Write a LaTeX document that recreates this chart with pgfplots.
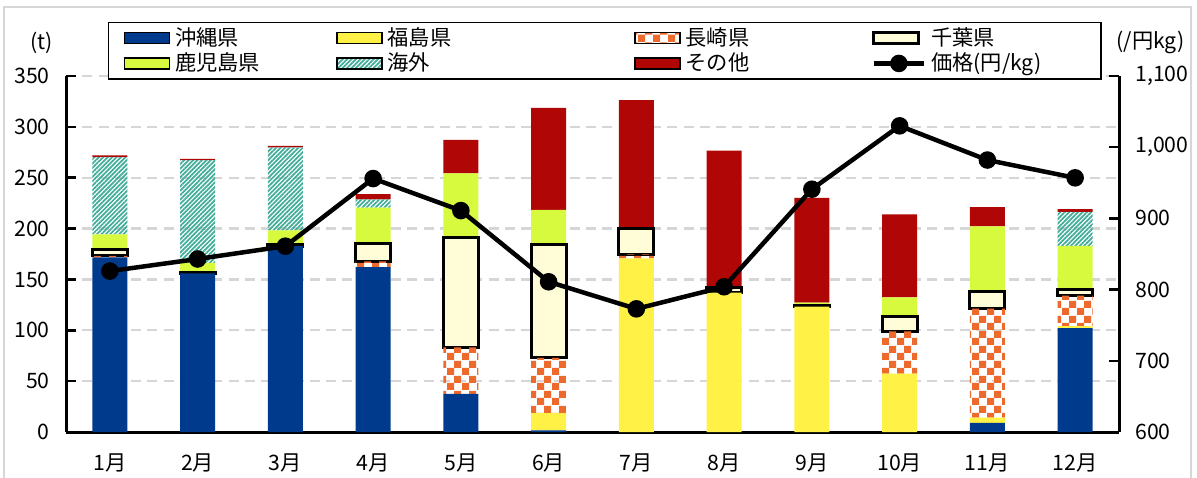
\documentclass[border=0pt]{standalone}
\usepackage{fontspec}
\setmainfont{Noto Sans CJK JP}
\usepackage{pgfplots}
\pgfplotsset{compat=1.18}
\usepackage{pgfplotstable}
\usetikzlibrary{patterns,patterns.meta}

\definecolor{okinawa}{HTML}{003A8C}
\definecolor{fukushima}{HTML}{FFF145}
\definecolor{nagasaki}{HTML}{EE6A2C}
\definecolor{chiba}{HTML}{FFFDD8}
\definecolor{kagoshima}{HTML}{D7FA3F}
\definecolor{kaigai}{HTML}{3FAD98}
\definecolor{sonota}{HTML}{B00606}
\definecolor{gridgray}{HTML}{D6D6D6}

\pgfdeclarepattern{
  name=checker, type=uncolored,
  bottom left={\pgfpointorigin},
  top right={\pgfpoint{5.8pt}{5.8pt}},
  tile size={\pgfpoint{5.8pt}{5.8pt}},
  code={
    \pgfpathrectangle{\pgfpointorigin}{\pgfpoint{2.9pt}{2.9pt}}
    \pgfpathrectangle{\pgfpoint{2.9pt}{2.9pt}}{\pgfpoint{2.9pt}{2.9pt}}
    \pgfusepath{fill}
  }
}

\pgfplotsset{
  pricelegend/.style={legend image code/.code={
    \draw[##1, mark=none] (0pt,0pt) -- (20pt,0pt);
    \draw[##1, only marks] plot coordinates {(10pt,0pt)};}},
}

% month, tonnes by origin (stacked bottom to top), price in yen/kg
\pgfplotstableread{
m okinawa fukushima nagasaki chiba kagoshima kaigai sonota price
1  171.7 0     2     5.5   15    76    1.7   826
2  156   0     0     1.2   9     101   1.3   843
3  182.8 0     0     1.5   14    81.5  1.6   861
4  162.2 0     5.5   17.5  35.4  8.2   5     956
5  37.4  0     45.9  107.8 63.2  0     32.8  911
6  1.5   17    54.4  111.4 34    0     100.3 811
7  0     170.7 3.9   25.2  0     0     126.5 773
8  0     137   0     5     0     0     134.7 804
9  0     123.2 0     1.5   2.6   0     102.9 941
10 0     57.3  41.6  14.4  19    0     81.6  1030
11 9     5.2   107.1 16.4  64.5  0     19    982
12 102.2 2     29.8  6.2   42.9  33.4  2.6   957
}\datatable

\newcommand{\lt}[2]{\makebox[#1][l]{#2}}

\begin{document}
\begin{tikzpicture}
\path[use as bounding box] (0,0) rectangle (478.8pt,190.8pt);
\draw[gridgray, line width=0.6pt] (1.6pt,-3pt) rectangle (476.4pt,188pt);

\begin{axis}[
    at={(26.4pt,18pt)}, anchor=south west,
    scale only axis, width=421.2pt, height=142.4pt,
    ybar stacked, bar width=0.4,
    xmin=0.5, xmax=12.5, ymin=0, ymax=350,
    xtick={1,...,12},
    xticklabels={1月,2月,3月,4月,5月,6月,7月,8月,9月,10月,11月,12月},
    ytick={0,50,...,350},
    axis x line*=bottom, axis y line*=left,
    axis line style={black, line width=1.2pt, -},
    tick align=inside,
    major tick length=4pt,
    major tick style={black, line width=1pt},
    major x tick style={draw=none},
    ymajorgrids,
    major grid style={gridgray, line width=0.9pt, dash pattern=on 4pt off 2.5pt},
    /pgf/number format/assume math mode=true,
    tick label style={font=\fontsize{8.5}{10}\selectfont},
    xticklabel style={yshift=-5pt},
    yticklabel style={xshift=-3pt},
    legend columns=4,
    legend cell align=left,
    legend style={at={(0.0398,1.152)}, anchor=north west, draw=black, line width=0.6pt,
      font=\fontsize{8.5}{10}\selectfont, inner xsep=6pt, inner ysep=1.2pt,
      nodes={inner ysep=0.7pt},
      /tikz/every even column/.append style={column sep=0pt}},
    legend image code/.code={\draw[#1] (0pt,-2.2pt) rectangle (18pt,2.2pt);},
    clip=false,
]
\addplot[fill=okinawa, draw=none] table[x=m, y=okinawa] {\datatable};
\addlegendentry{\lt{62.4pt}{沖縄県}}
\addplot[fill=fukushima, draw=none] table[x=m, y=fukushima] {\datatable};
\addlegendentry{\lt{96.6pt}{福島県}}
\addplot[pattern=checker, pattern color=nagasaki, draw=none] table[x=m, y=nagasaki] {\datatable};
\addlegendentry{\lt{72.4pt}{長崎県}}
\addplot[fill=chiba, draw=black, line width=1.2pt] table[x=m, y=chiba] {\datatable};
\addlegendentry{\lt{60pt}{千葉県}}
\addplot[fill=kagoshima, draw=none] table[x=m, y=kagoshima] {\datatable};
\addlegendentry{\lt{62.4pt}{鹿児島県}}
\addplot[pattern={Lines[angle=45,distance=1.25pt,line width=0.7pt]}, pattern color=kaigai, draw=none] table[x=m, y=kaigai] {\datatable};
\addlegendentry{\lt{96.6pt}{海外}}
\addplot[fill=sonota, draw=none] table[x=m, y=sonota] {\datatable};
\addlegendentry{\lt{72.4pt}{その他}}
\addlegendimage{pricelegend, sharp plot, black, line width=1.8pt, mark=*, mark size=2.6pt}
\addlegendentry{\lt{60pt}{価格(円/kg)}}
\node[font=\fontsize{8.5}{10}\selectfont] at (rel axis cs:-0.023,1.093) {(t)};
\node[font=\fontsize{8.5}{10}\selectfont] at (rel axis cs:1.03,1.093) {(/円kg)};
\end{axis}

\begin{axis}[
    at={(26.4pt,18pt)}, anchor=south west,
    scale only axis, width=421.2pt, height=142.4pt,
    xmin=0.5, xmax=12.5, ymin=600, ymax=1100,
    ytick={600,700,...,1100},
    axis x line=none, axis y line*=right,
    axis line style={black, line width=1.2pt, -},
    tick align=inside,
    major tick length=4pt,
    major tick style={black, line width=1pt},
    /pgf/number format/assume math mode=true,
    tick label style={font=\fontsize{8.5}{10}\selectfont},
    yticklabel style={xshift=3pt},
]
\addplot[black, line width=1.8pt, mark=*, mark size=2.6pt] table[x=m, y=price] {\datatable};
\end{axis}
\end{tikzpicture}
\end{document}
